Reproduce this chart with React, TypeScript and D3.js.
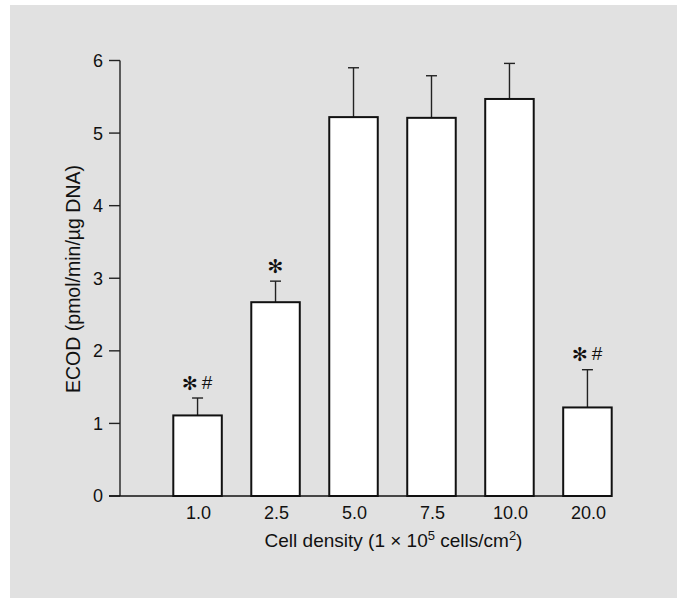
import { scaleBand, scaleLinear } from 'd3'

const categories = ['1.0', '2.5', '5.0', '7.5', '10.0', '20.0']
const means = [1.11, 2.67, 5.22, 5.21, 5.47, 1.22]
const errors = [0.24, 0.29, 0.68, 0.58, 0.49, 0.52]
const marks = [['✻', '#'], ['✻'], [], [], [], ['✻', '#']]
const yTicks = [0, 1, 2, 3, 4, 5, 6]

const W = 682
const H = 599
const font = '"Liberation Sans", Arial, Helvetica, sans-serif'

export default function App() {
  const axisX = 120
  const axisStart = 109
  const x = scaleBand().domain(categories).range([173.3, 611.7]).paddingInner(0.378).paddingOuter(0)
  const y = scaleLinear().domain([0, 6]).range([496, 60.5])
  const bw = x.bandwidth()
  const capHalf = 5.5

  return (
    <svg
      width={W}
      height={H}
      style={{ position: 'absolute', left: 0, top: 0 }}
      fontFamily={font}
    >
      <rect x={10} y={5} width={667} height={593} fill="#e1e1e1" />

      {/* bars + error bars */}
      {categories.map((c, i) => {
        const x0 = x(c) ?? 0
        const cx = x0 + bw / 2
        const top = y(means[i])
        const capY = y(means[i] + errors[i])
        return (
          <g key={c}>
            <line x1={cx} x2={cx} y1={top} y2={capY} stroke="#222" strokeWidth={1.4} />
            <line x1={cx - capHalf} x2={cx + capHalf} y1={capY} y2={capY} stroke="#222" strokeWidth={1.4} />
            <rect x={x0} y={top} width={bw} height={y(0) - top} fill="#fff" stroke="#111" strokeWidth={2} />
            {marks[i].length === 1 && (
              <text x={cx} y={capY - 8.5} textAnchor="middle" fontSize={19} fontFamily="DejaVu Sans" fill="#111">
                {marks[i][0]}
              </text>
            )}
            {marks[i].length === 2 && (
              <>
                <text x={cx - 7.5} y={capY - 8.5} textAnchor="middle" fontSize={19} fontFamily="DejaVu Sans" fill="#111">
                  {marks[i][0]}
                </text>
                <text x={cx + 9.5} y={capY - 9.5} textAnchor="middle" fontSize={19} fill="#111">
                  {marks[i][1]}
                </text>
              </>
            )}
          </g>
        )
      })}

      {/* y axis */}
      <line x1={axisX} x2={axisX} y1={y(6)} y2={y(0)} stroke="#222" strokeWidth={1.4} />
      {yTicks.map((t) => (
        <g key={t} transform={`translate(0,${y(t)})`}>
          <line x1={axisStart} x2={axisX} y1={0} y2={0} stroke="#222" strokeWidth={1.4} />
          <text x={103} y={0} dy="0.36em" textAnchor="end" fontSize={18} fill="#111">
            {t}
          </text>
        </g>
      ))}

      {/* x axis */}
      <line x1={axisStart} x2={x.range()[1]} y1={y(0)} y2={y(0)} stroke="#111" strokeWidth={1.6} />
      {categories.map((c) => (
        <text key={`l-${c}`} x={(x(c) ?? 0) + bw / 2 + 1} y={519} textAnchor="middle" fontSize={18} fill="#111">
          {c}
        </text>
      ))}

      <text x={393.5} y={546.5} textAnchor="middle" fontSize={19} fill="#111">
        Cell density (1 × 10
        <tspan fontSize={13} dy={-7}>5</tspan>
        <tspan dy={7}> cells/cm</tspan>
        <tspan fontSize={13} dy={-7}>2</tspan>
        <tspan dy={7}>)</tspan>
      </text>

      <text
        transform={`translate(80,279) rotate(-90)`}
        textAnchor="middle"
        fontSize={19.5}
        fill="#111"
      >
        ECOD (pmol/min/µg DNA)
      </text>
    </svg>
  )
}
